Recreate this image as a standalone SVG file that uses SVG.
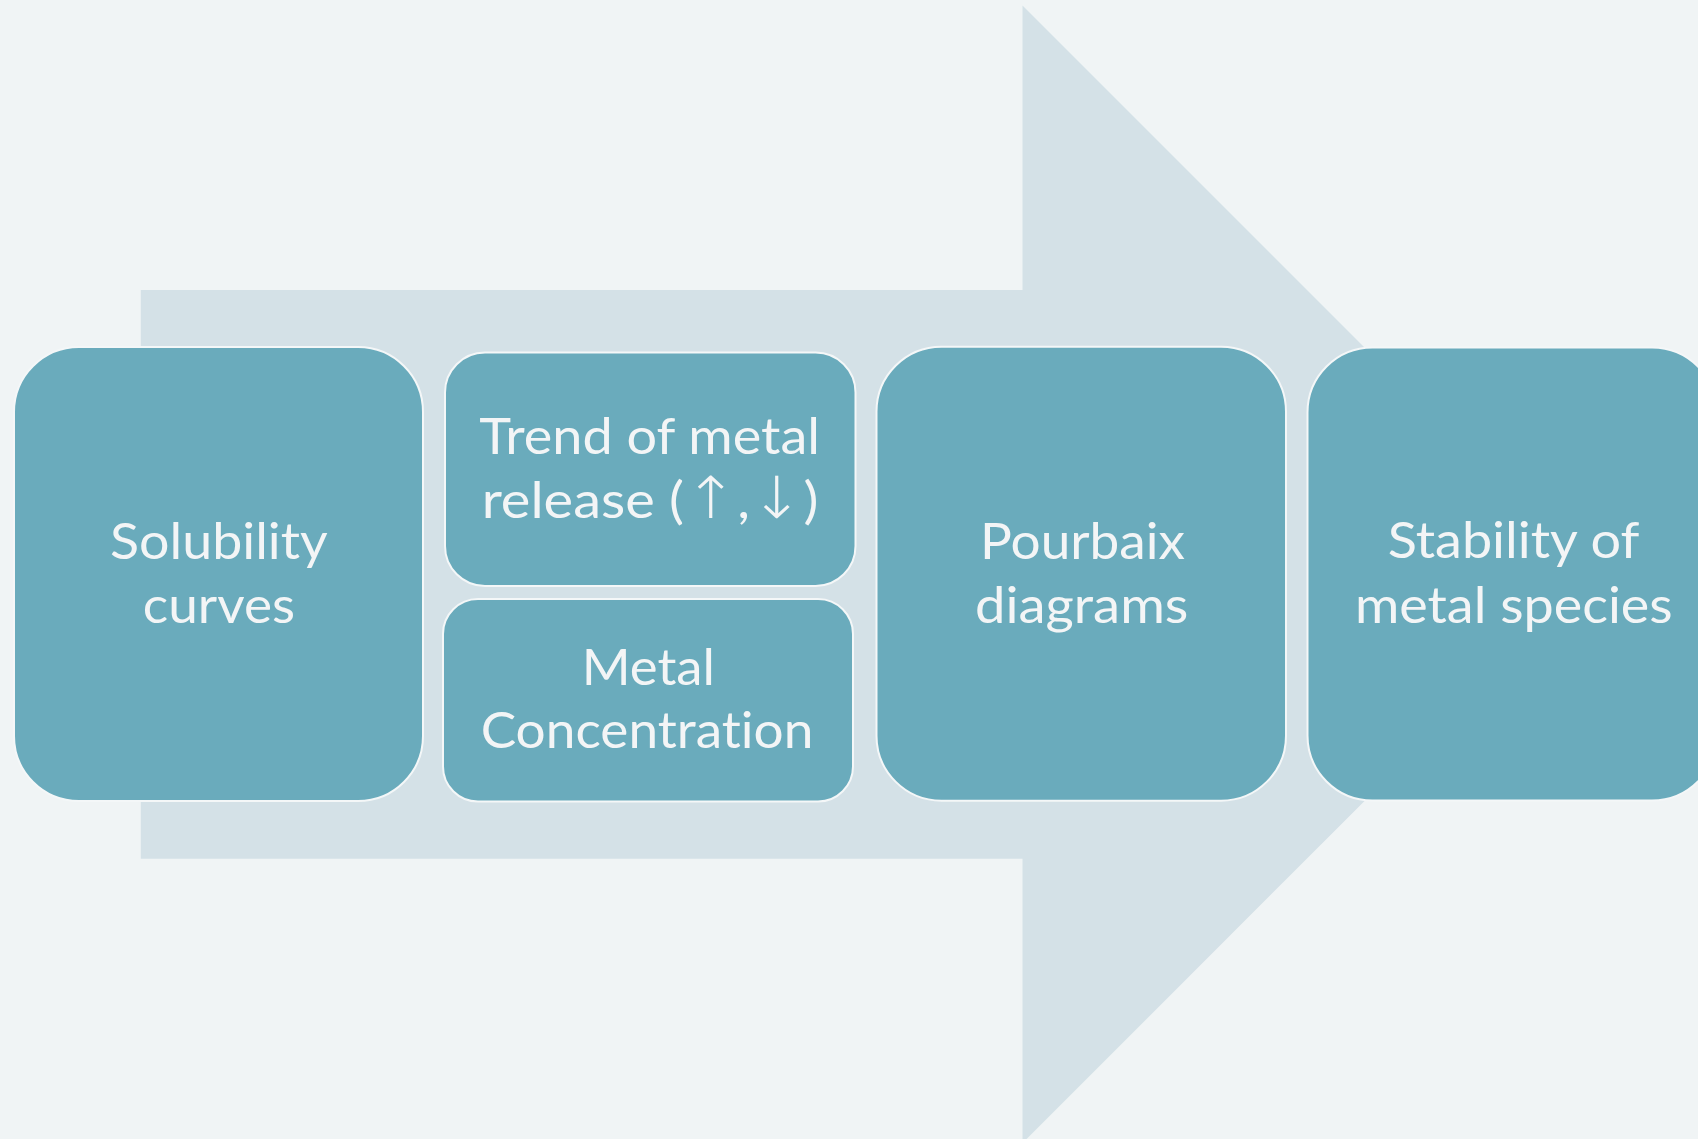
<svg xmlns="http://www.w3.org/2000/svg" width="1698" height="1139" viewBox="0 0 1698 1139">
<style>
.node{fill:#6AABBC;stroke:#F4F7F8;stroke-width:2}
.lbl{font-family:Lato,"Open Sans","Noto Sans",sans-serif;font-size:51px;fill:#F3F5F6;text-anchor:middle;font-variant-ligatures:none;font-feature-settings:"liga" 0}
.sym{font-family:"DejaVu Sans",sans-serif;font-size:58px;font-weight:200}
</style>
<rect x="0" y="0" width="1698" height="1139" fill="#F0F4F5"/>
<g id="arrow">
<polygon points="140.8,290 1022.5,290 1022.5,5.5 1591.3,574.3 1022.5,1143.1 1022.5,858.7 140.8,858.7" fill="#D4E1E7"/>
</g>
<g id="connectors"></g>
<g id="node-solubility">
<rect class="node" x="14" y="347" width="409" height="454" rx="65" ry="65"/>
<text class="lbl" x="218.9" y="559" textLength="217.7" lengthAdjust="spacingAndGlyphs">Solubility</text>
<text class="lbl" x="218.9" y="623.3" textLength="152.3" lengthAdjust="spacingAndGlyphs">curves</text>
</g>
<g id="node-trend">
<rect class="node" x="445" y="352.5" width="410.5" height="233.5" rx="40" ry="40"/>
<text class="lbl" x="649.7" y="454.3" textLength="340.7" lengthAdjust="spacingAndGlyphs">Trend of metal</text>
<text class="lbl" x="650" y="518.3" textLength="336.7" lengthAdjust="spacingAndGlyphs">release (<tspan class="sym">↑</tspan>,<tspan class="sym">↓</tspan>)</text>
</g>
<g id="node-concentration">
<rect class="node" x="443" y="599" width="410" height="202.5" rx="35" ry="35"/>
<text class="lbl" x="648.3" y="685" textLength="133.3" lengthAdjust="spacingAndGlyphs">Metal</text>
<text class="lbl" x="647" y="748.3" textLength="332.7" lengthAdjust="spacingAndGlyphs">Concentration</text>
</g>
<g id="node-pourbaix">
<rect class="node" x="876.5" y="346.7" width="409.5" height="454" rx="65" ry="65"/>
<text class="lbl" x="1082.5" y="559" textLength="205" lengthAdjust="spacingAndGlyphs">Pourbaix</text>
<text class="lbl" x="1081.7" y="623.3" textLength="213.3" lengthAdjust="spacingAndGlyphs">diagrams</text>
</g>
<g id="node-stability">
<rect class="node" x="1307.5" y="347.5" width="409.5" height="453" rx="65" ry="65"/>
<text class="lbl" x="1513.5" y="558.3" textLength="251.7" lengthAdjust="spacingAndGlyphs">Stability of</text>
<text class="lbl" x="1513.8" y="623.3" textLength="317.7" lengthAdjust="spacingAndGlyphs">metal species</text>
</g>
</svg>
